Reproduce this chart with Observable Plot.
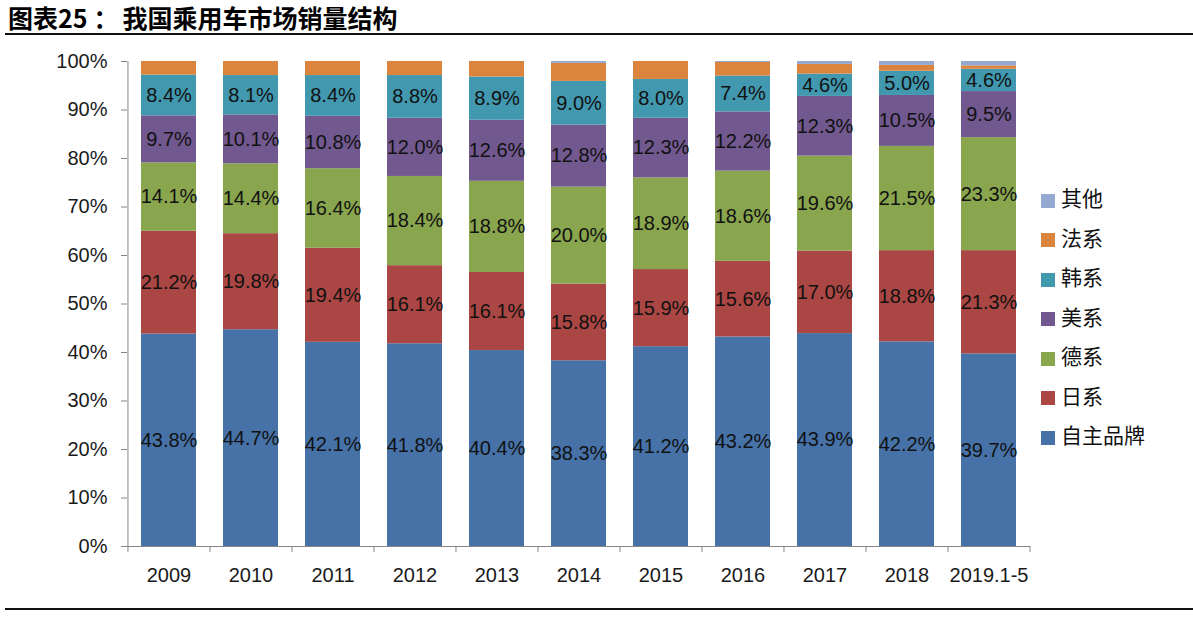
<!DOCTYPE html>
<html><head><meta charset="utf-8">
<script src="https://cdn.jsdelivr.net/npm/d3@7"></script>
<script src="https://cdn.jsdelivr.net/npm/@observablehq/plot@0.6"></script>
<style>
body{margin:0;background:#fff;}
#wrap{position:relative;width:1193px;height:622px;overflow:hidden;font-family:"Liberation Sans","Noto Sans CJK SC",sans-serif;}
#title{position:absolute;left:8px;top:2px;font-family:"Noto Sans CJK SC",sans-serif;font-weight:bold;font-size:25px;line-height:30px;color:#000;white-space:nowrap;}
#title .c{display:inline-block;margin:0 4px 0 6px;}
.hr{position:absolute;left:5px;right:0;height:2px;background:#111;}
#chart{position:absolute;left:0;top:38px;}
.li{position:absolute;left:1041px;height:24px;display:flex;align-items:center;font-family:"Noto Sans CJK SC",sans-serif;font-size:21px;color:#111;white-space:nowrap;}
.sw{width:14px;height:14px;margin-right:6px;margin-top:7px;}
</style>
</head><body>
<div id="wrap">
  <div id="title">图表25<span class="c">：</span>我国乘用车市场销量结构</div>
  <div class="hr" style="top:33px"></div>
  <div id="chart"></div>
  <div id="legend"></div>
  <div class="hr" style="top:608px"></div>
</div>
<script>
const years = ["2009","2010","2011","2012","2013","2014","2015","2016","2017","2018","2019.1-5"];
const series = ["自主品牌","日系","德系","美系","韩系","法系","其他"];
const colors = ["#4672A8","#AA4643","#89A54E","#71588F","#4198AF","#DB843D","#93A9CF"];
const zizhu = [43.8,44.7,42.1,41.8,40.4,38.3,41.2,43.2,43.9,42.2,39.7];
const rixi  = [21.2,19.8,19.4,16.1,16.1,15.8,15.9,15.6,17.0,18.8,21.3];
const dexi  = [14.1,14.4,16.4,18.4,18.8,20.0,18.9,18.6,19.6,21.5,23.3];
const meixi = [9.7,10.1,10.8,12.0,12.6,12.8,12.3,12.2,12.3,10.5,9.5];
const hanxi = [8.4,8.1,8.4,8.8,8.9,9.0,8.0,7.4,4.6,5.0,4.6];
const faxi  = [2.8,2.9,2.9,2.9,3.2,3.7,3.7,2.8,2.0,1.2,0.7];
const qita  = [0,0,0,0,0,0.4,0,0.2,0.6,0.8,0.9];
const yTicks = [0,10,20,30,40,50,60,70,80,90,100];
const labeled = ["自主品牌","日系","德系","美系","韩系"];

const values = [zizhu, rixi, dexi, meixi, hanxi, faxi, qita];
const data = [];
series.forEach((s, i) => years.forEach((y, j) => data.push({year: y, series: s, value: values[i][j]})));

const W = 1193, H = 570, mL = 127, mR = 163, mT = 23, mB = 62;
const step = (W - mL - mR) / years.length;
const axisColor = "#868686";

const chart = Plot.plot({
  width: W, height: H,
  marginTop: mT, marginBottom: mB, marginLeft: mL, marginRight: mR,
  style: {fontFamily: '"Liberation Sans","Noto Sans CJK SC",sans-serif', fontSize: "20px", color: "#1a1a1a", background: "transparent", overflow: "visible"},
  x: {domain: years, paddingInner: 0.33, paddingOuter: 0.165, label: null},
  y: {domain: [0, 100], label: null},
  color: {domain: series, range: colors},
  marks: [
    Plot.barY(data, {x: "year", y: "value", fill: "series", z: "series", order: series}),
    Plot.text(data, Plot.stackY({
      x: "year", y: "value", z: "series", order: series,
      text: d => labeled.includes(d.series) ? d.value.toFixed(1) + "%" : null,
      fill: "#111", fontSize: 20
    })),
    Plot.ruleY([0], {stroke: axisColor}),
    Plot.ruleX([years[0]], {dx: -step / 2, stroke: axisColor}),
    Plot.ruleX(years, {y1: 0, y2: -1.24, dx: -step / 2, stroke: axisColor}),
    Plot.ruleX([years[years.length - 1]], {y1: 0, y2: -1.24, dx: step / 2, stroke: axisColor}),
    Plot.axisY({ticks: yTicks, tickFormat: d => d + "%", tickSize: 6, tickPadding: 14, stroke: axisColor, fill: "#1a1a1a", fontSize: 20}),
    Plot.axisX({tickSize: 0, tickPadding: 21, fill: "#1a1a1a", fontSize: 20, label: null})
  ]
});
document.getElementById("chart").appendChild(chart);

// legend (top item = last series)
const legend = document.getElementById("legend");
const order = series.slice().reverse();
order.forEach((s, k) => {
  const div = document.createElement("div");
  div.className = "li";
  div.style.top = (197 - 12 + k * 39.5) + "px";
  const sw = document.createElement("span");
  sw.className = "sw";
  sw.style.background = colors[series.indexOf(s)];
  div.appendChild(sw);
  div.appendChild(document.createTextNode(s));
  legend.appendChild(div);
});
</script>
</body></html>
